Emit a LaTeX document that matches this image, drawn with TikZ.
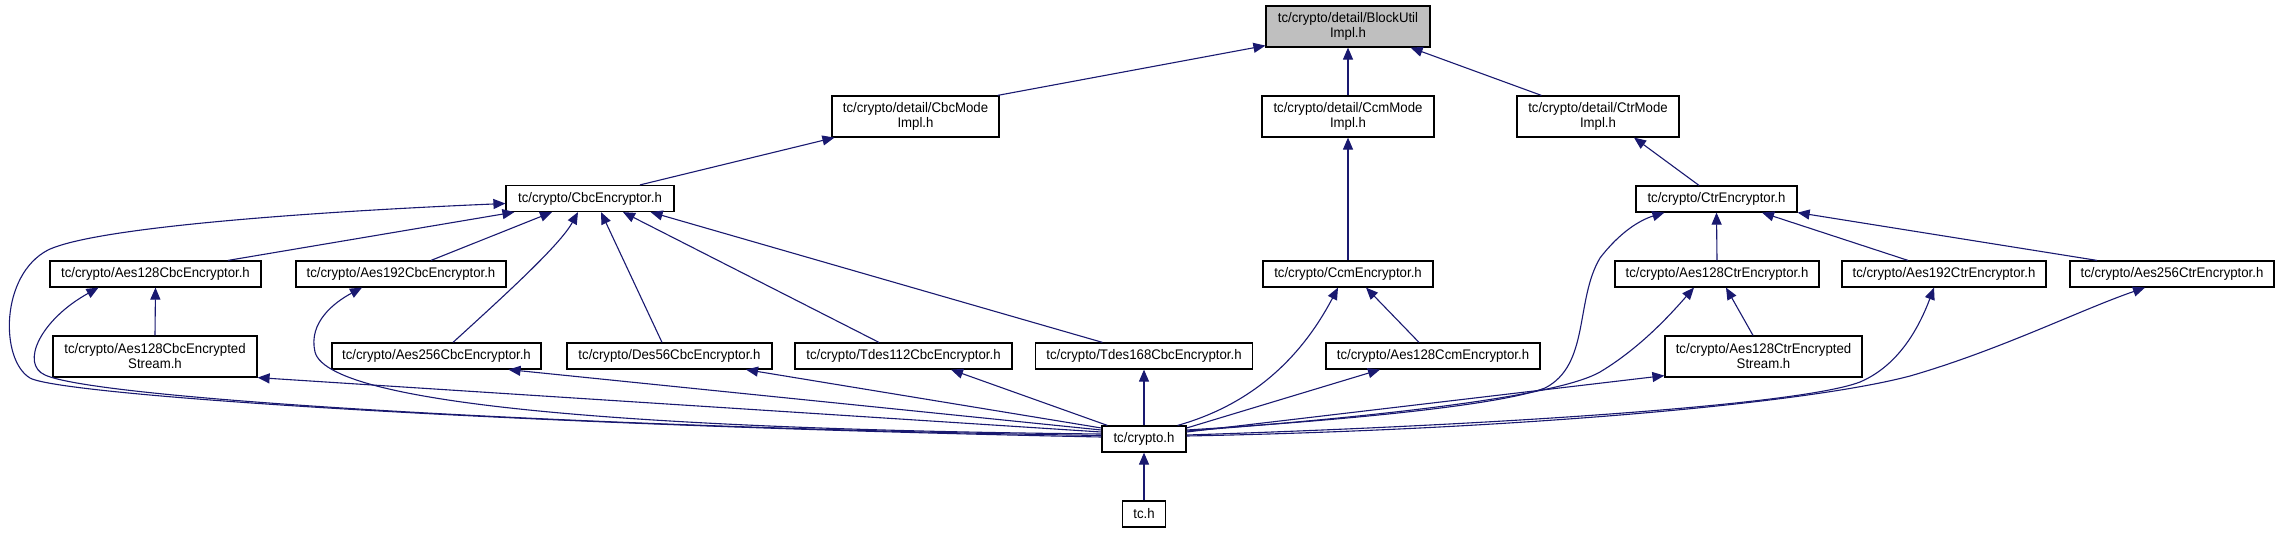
\documentclass[tikz,border=0pt]{standalone}
\usepackage{fontspec}
\setmainfont{Liberation Sans}[FakeStretch=0.95]
\usetikzlibrary{arrows.meta}
\definecolor{edgec}{HTML}{191970}
\definecolor{rootfill}{HTML}{BFBFBF}
\begin{document}
\begin{tikzpicture}[x=1pt,y=-1pt,
  box/.style={draw=black, line width=1.2pt, fill=white, inner sep=0pt, align=center,
    font=\fontsize{13.9}{15}\selectfont, minimum height=26pt},
  box2/.style={box, minimum height=41pt},
  edge/.style={draw=edgec, line width=1.1pt, -{Triangle[length=12pt,width=10pt]}}]
\useasboundingbox (0,0) rectangle (2281,533);

\node[box2, minimum width=164pt, fill=rootfill] (blk) at (1348,26.5) {tc/crypto/detail/BlockUtil\\Impl.h};
\node[box2, minimum width=167pt] (cbcm) at (915.5,116.5) {tc/crypto/detail/CbcMode\\Impl.h};
\node[box2, minimum width=172pt] (ccmm) at (1348,116.5) {tc/crypto/detail/CcmMode\\Impl.h};
\node[box2, minimum width=162pt] (ctrm) at (1598,116.5) {tc/crypto/detail/CtrMode\\Impl.h};
\node[box, minimum width=168pt] (cbce) at (590,198.5) {tc/crypto/CbcEncryptor.h};
\node[box, minimum width=161pt] (ctre) at (1716.5,199) {tc/crypto/CtrEncryptor.h};
\node[box, minimum width=170pt] (ccme) at (1348,274) {tc/crypto/CcmEncryptor.h};
\node[box, minimum width=211pt] (a128cbc) at (155.5,274) {tc/crypto/Aes128CbcEncryptor.h};
\node[box, minimum width=210pt] (a192cbc) at (401,274) {tc/crypto/Aes192CbcEncryptor.h};
\node[box2, minimum width=204pt] (a128cbcs) at (155,356.5) {tc/crypto/Aes128CbcEncrypted\\Stream.h};
\node[box, minimum width=209pt] (a256cbc) at (436.5,356) {tc/crypto/Aes256CbcEncryptor.h};
\node[box, minimum width=205pt] (des56) at (669.5,356) {tc/crypto/Des56CbcEncryptor.h};
\node[box, minimum width=217pt] (tdes112) at (903.5,356) {tc/crypto/Tdes112CbcEncryptor.h};
\node[box, minimum width=217pt] (tdes168) at (1144,356) {tc/crypto/Tdes168CbcEncryptor.h};
\node[box, minimum width=214pt] (a128ccm) at (1433,356) {tc/crypto/Aes128CcmEncryptor.h};
\node[box, minimum width=204pt] (a128ctr) at (1717,274) {tc/crypto/Aes128CtrEncryptor.h};
\node[box, minimum width=204pt] (a192ctr) at (1944,274) {tc/crypto/Aes192CtrEncryptor.h};
\node[box, minimum width=204pt] (a256ctr) at (2172,274) {tc/crypto/Aes256CtrEncryptor.h};
\node[box2, minimum width=197pt] (a128ctrs) at (1763.5,356.5) {tc/crypto/Aes128CtrEncrypted\\Stream.h};
\node[box, minimum width=84pt] (crypto) at (1144,439) {tc/crypto.h};
\node[box, minimum width=43pt] (tch) at (1144,514) {tc.h};

% top level
\draw[edge] ([xshift=-2pt]cbcm.north east) -- ([yshift=2pt]blk.south west);
\draw[edge] (ccmm.north) -- (blk.south);
\draw[edge] ([xshift=25pt]ctrm.north west) -- ([xshift=-20pt]blk.south east);
\draw[edge] ([xshift=50pt]cbce.north) -- ([xshift=3pt]cbcm.south west);
\draw[edge] (ccme.north) -- (ccmm.south);
\draw[edge] ([xshift=-17.5pt]ctre.north) -- ([xshift=36pt]ctrm.south);

% into CbcEncryptor
\draw[edge] ([xshift=72.5pt]a128cbc.north) -- ([xshift=9pt]cbce.south west);
\draw[edge] ([xshift=30pt]a192cbc.north) -- ([xshift=-38pt]cbce.south);
\draw[edge] ([xshift=16.5pt]a256cbc.north) .. controls (505,295) and (560,245) .. ([xshift=-12pt]cbce.south);
\draw[edge] ([xshift=-7.5pt]des56.north) -- ([xshift=11pt]cbce.south);
\draw[edge] ([xshift=-24.5pt]tdes112.north) -- ([xshift=33pt]cbce.south);
\draw[edge] ([xshift=-41.5pt]tdes168.north) -- ([xshift=-24pt]cbce.south east);
\draw[edge] (a128cbcs.north) -- (a128cbc.south);

% Ccm
\draw[edge] ([xshift=-14pt]a128ccm.north) -- ([xshift=18pt]ccme.south);

% into CtrEncryptor
\draw[edge] (a128ctr.north) -- (ctre.south);
\draw[edge] ([xshift=-36pt]a192ctr.north) -- ([xshift=45.5pt]ctre.south);
\draw[edge] ([xshift=-75pt]a256ctr.north) -- (ctre.south east);
\draw[edge] ([xshift=-10.5pt]a128ctrs.north) -- ([xshift=9pt]a128ctr.south);

% from tc/crypto.h, left side
\draw[edge] ([yshift=2pt]crypto.west) .. controls (500,425) and (60,395) .. (30,378)
  .. controls (0,360) and (0,275) .. (48,250)
  .. controls (100,225) and (350,210) .. ([yshift=-5pt]cbce.west);
\draw[edge] ([yshift=3.5pt]crypto.west) .. controls (600,428) and (100,400) .. (45,375)
  .. controls (20,364) and (40,320) .. ([xshift=-57pt]a128cbc.south);
\draw[edge] ([yshift=5pt]crypto.west) .. controls (700,430) and (330,410) .. (315,352)
  .. controls (308,322) and (335,302) .. ([xshift=-39pt]a192cbc.south);
\draw[edge] ([yshift=7pt]crypto.west) -- (a128cbcs.south east);
\draw[edge] ([yshift=9pt]crypto.west) -- ([xshift=72pt]a256cbc.south);
\draw[edge] ([yshift=11pt]crypto.west) -- ([xshift=76.5pt]des56.south);
\draw[edge] ([xshift=6pt]crypto.north west) -- ([xshift=47.5pt]tdes112.south);
\draw[edge] (crypto.north) -- (tdes168.south);

% from tc/crypto.h, right side
\draw[edge] ([xshift=-9pt]crypto.north east) .. controls (1250,405) and (1300,360) .. ([xshift=-10pt]ccme.south);
\draw[edge] ([yshift=11pt]crypto.east) -- ([xshift=-53pt]a128ccm.south);
\draw[edge] ([yshift=9pt]crypto.east) .. controls (1350,420) and (1500,405) .. (1545,388)
  .. controls (1590,365) and (1575,300) .. (1600,258)
  .. controls (1620,232) and (1640,220) .. ([xshift=29pt]ctre.south west);
\draw[edge] ([yshift=8pt]crypto.east) .. controls (1400,415) and (1560,395) .. (1600,372)
  .. controls (1640,348) and (1670,315) .. ([xshift=-23pt]a128ctr.south);
\draw[edge] ([yshift=7pt]crypto.east) -- ([yshift=2pt]a128ctrs.south west);
\draw[edge] ([yshift=4pt]crypto.east) .. controls (1500,425) and (1800,405) .. (1860,382)
  .. controls (1900,365) and (1920,325) .. ([xshift=-10pt]a192ctr.south);
\draw[edge] ([yshift=3pt]crypto.east) .. controls (1500,430) and (1800,405) .. (1910,376)
  .. controls (2000,350) and (2080,310) .. ([xshift=-27pt]a256ctr.south);

\draw[edge] (tch.north) -- (crypto.south);
\end{tikzpicture}
\end{document}
